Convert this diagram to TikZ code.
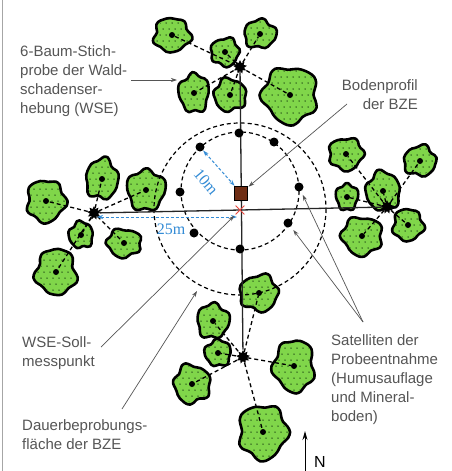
\documentclass[tikz,border=0pt]{standalone}
\usepackage{fontspec}
\setmainfont{Liberation Sans}
\newfontfamily\labelserif{Liberation Serif}
\usetikzlibrary{shapes.geometric,shapes.misc,arrows.meta}

\definecolor{leaf}{RGB}{128,214,74}
\definecolor{dotgreen}{RGB}{30,70,20}
\definecolor{labelgray}{RGB}{85,85,85}
\definecolor{measureblue}{RGB}{52,140,214}
\definecolor{soilbrown}{RGB}{110,45,20}
\definecolor{markred}{RGB}{235,70,60}

\tikzset{
  declare function={lobe(\t,\p)=1+0.08*sin(5*\t+\p)+0.05*sin(7*\t+2*\p)+0.04*sin(3*\t+3*\p);},
  crownline/.style={fill=leaf, draw=black, line width=2.6pt, line join=round},
  trunk/.style={circle, fill=black, inner sep=0pt, minimum size=6pt},
  plotpoint/.style={star, star points=9, star point ratio=1.7, fill=black, inner sep=0pt, minimum size=14pt},
  satellite/.style={circle, fill=black, inner sep=0pt, minimum size=9pt},
  treelink/.style={black, line width=1.3pt, dash pattern=on 4pt off 3pt},
  ring/.style={black, line width=1.2pt, dash pattern=on 4pt off 3pt},
  axisline/.style={black!85, line width=1.3pt},
  pointer/.style={labelgray, line width=0.7pt, -{Stealth[length=6pt,width=4pt]}},
  measure/.style={measureblue, line width=1pt, dash pattern=on 3pt off 2pt,
    {Stealth[length=6pt,width=4pt]}-{Stealth[length=6pt,width=4pt]}},
  caption/.style={text=labelgray, font=\fontsize{15}{19}\selectfont, inner sep=0pt},
  measurelabel/.style={text=measureblue, font=\labelserif\fontsize{16}{18}\selectfont, inner sep=0pt},
  northarrow/.style={black, line width=1pt, -{Stealth[length=9pt,width=5pt]}},
}

% crown of a sample tree: name, x, y, x radius, y radius, lobe phase
\newcommand\crown[6]{%
  \draw[crownline] plot[smooth cycle, samples=30, domain=0:348, variable=\t]
    ({#2+#4*lobe(\t,#6)*cos(\t)}, {#3+#5*lobe(\t,#6)*sin(\t)});
  \begin{scope}
    \clip plot[smooth cycle, samples=30, domain=0:348, variable=\t]
      ({#2+(#4-2)*lobe(\t,#6)*cos(\t)}, {#3+(#5-2)*lobe(\t,#6)*sin(\t)});
    \foreach \i in {-5,...,5}
      \foreach \j in {-5,...,5}
        \fill[dotgreen] ({#2+6*\i+3*mod(\j,2)}, {#3+6*\j}) circle (0.75);
  \end{scope}
  \node[trunk] (#1) at (#2,#3) {};
}

\begin{document}
\begin{tikzpicture}[x=1pt, y=-1pt]
\useasboundingbox (0,0) rectangle (451,471);
\fill[white] (0,0) rectangle (451,471);
\draw[black!35, line width=1pt] (2,0) -- (2,471);

% tree crowns, north group
\crown{t1}{172}{35}{18}{17}{20}
\crown{t2}{225}{52}{14}{14}{80}
\crown{t3}{260}{34}{16}{14}{140}
\crown{t4}{194}{93}{15}{19}{200}
\crown{t5}{230}{95}{16}{16}{260}
\crown{t6}{290}{95}{27}{28}{310}
% west group
\crown{l1}{46}{201}{19}{21}{40}
\crown{l2}{102}{179}{16}{20}{120}
\crown{l3}{146}{190}{19}{20}{170}
\crown{l4}{81}{235}{12}{13}{230}
\crown{l5}{124}{243}{17}{14}{290}
\crown{l6}{56}{272}{20}{23}{350}
% east group
\crown{r1}{346}{154}{17}{16}{60}
\crown{r2}{420}{161}{16}{15}{110}
\crown{r3}{347}{197}{11}{13}{180}
\crown{r4}{383}{191}{17}{19}{240}
\crown{r5}{362}{236}{20}{19}{300}
\crown{r6}{408}{225}{15}{16}{20}
% south group
\crown{b1}{259}{293}{19}{18}{90}
\crown{b2}{213}{321}{16}{17}{150}
\crown{b3}{218}{353}{13}{13}{210}
\crown{b4}{192}{384}{18}{19}{270}
\crown{b5}{294}{366}{20}{26}{330}
\crown{b6}{263}{432}{24}{27}{50}

% sampling points of the forest damage survey
\node[plotpoint] (wT) at (240,67) {};
\node[plotpoint] (wL) at (94,213) {};
\node[plotpoint] (wR) at (387,207) {};
\node[plotpoint] (wB) at (243,357) {};

% links from each point to its six trees
\foreach \t in {t1,t2,t3,t4,t5,t6} \draw[treelink] (wT) -- (\t);
\foreach \t in {l1,l2,l3,l4,l5,l6} \draw[treelink] (wL) -- (\t);
\foreach \t in {r1,r2,r3,r4,r5,r6} \draw[treelink] (wR) -- (\t);
\foreach \t in {b1,b2,b3,b4,b5,b6} \draw[treelink] (wB) -- (\t);

% permanent plot rings
\coordinate (ic) at (240,191);
\coordinate (oc) at (240,209);
\draw[ring] (ic) circle (59);
\draw[ring] (oc) circle (86);

% cross of the grid lines
\draw[axisline] (wL) -- (wR);
\draw[axisline] (wT) -- (wB);

% satellite samples
\node[satellite] (s1) at (239,133) {};
\node[satellite] (s2) at (274,142) {};
\node[satellite] (s3) at (299,187) {};
\node[satellite] (s4) at (288,223) {};
\node[satellite] (s5) at (240,249) {};
\node[satellite] (s6) at (194,233) {};
\node[satellite] (s7) at (180,192) {};
\node[satellite] (s8) at (200,147) {};

% soil profile and nominal measuring point
\node[draw=black, fill=soilbrown, minimum width=13pt, minimum height=14pt, inner sep=0pt, line width=0.5pt] (soil) at (241,193) {};
\node[cross out, draw=markred, line width=0.8pt, minimum size=8pt, inner sep=0pt] (target) at (240,210) {};

% distances
\draw[measure] (s8) -- (soil);
\coordinate (m25a) at (97,217);
\coordinate (m25b) at (237,217);
\draw[measure] (m25a) -- (m25b);
\node[measurelabel, rotate=-50] (d10) at (206,182) {10m};
\node[measurelabel] (d25) at (171,229) {25m};

% captions
\node[caption, anchor=north west, align=left] (capwse) at (20,45.5)
  {6-Baum-Stich-\\probe der Wald-\\schadenser-\\hebung (WSE)};
\coordinate (capwsetail) at (131,80);
\coordinate (capwsehead) at (177,80);
\draw[pointer] (capwsetail) -- (capwsehead);

\node[caption, anchor=north east, align=right] (capsoil) at (418,79)
  {Bodenprofil\\der BZE};
\coordinate (capsoiltail) at (347,104);
\draw[pointer, shorten >=1pt] (capsoiltail) -- (soil);

\node[caption, anchor=north west, align=left] (capsoll) at (22,336)
  {WSE-Soll-\\messpunkt};
\coordinate (capsolltail) at (101,347);
\draw[pointer, shorten >=2pt] (capsolltail) -- (target);

\node[caption, anchor=north west, align=left] (capplot) at (22,419)
  {Dauerbeprobungs-\\fläche der BZE};
\coordinate (capplottail) at (122,409);
\coordinate (capplothead) at (197,291);
\draw[pointer] (capplottail) -- (capplothead);

\node[caption, anchor=north west, align=left] (capsat) at (331,334)
  {Satelliten der\\Probeentnahme\\(Humusauflage\\und Mineral-\\boden)};
\coordinate (capsattail) at (363,322);
\draw[pointer, shorten >=4pt] (capsattail) -- (s3);
\draw[pointer, shorten >=4pt] (capsattail) -- (s4);

% north arrow
\coordinate (ntail) at (305,471);
\coordinate (nhead) at (305,431);
\draw[northarrow] (ntail) -- (nhead);
\node[anchor=base west, inner sep=0pt, font=\fontsize{16}{16}\selectfont] (nlabel) at (314,467) {N};
\end{tikzpicture}
\end{document}
